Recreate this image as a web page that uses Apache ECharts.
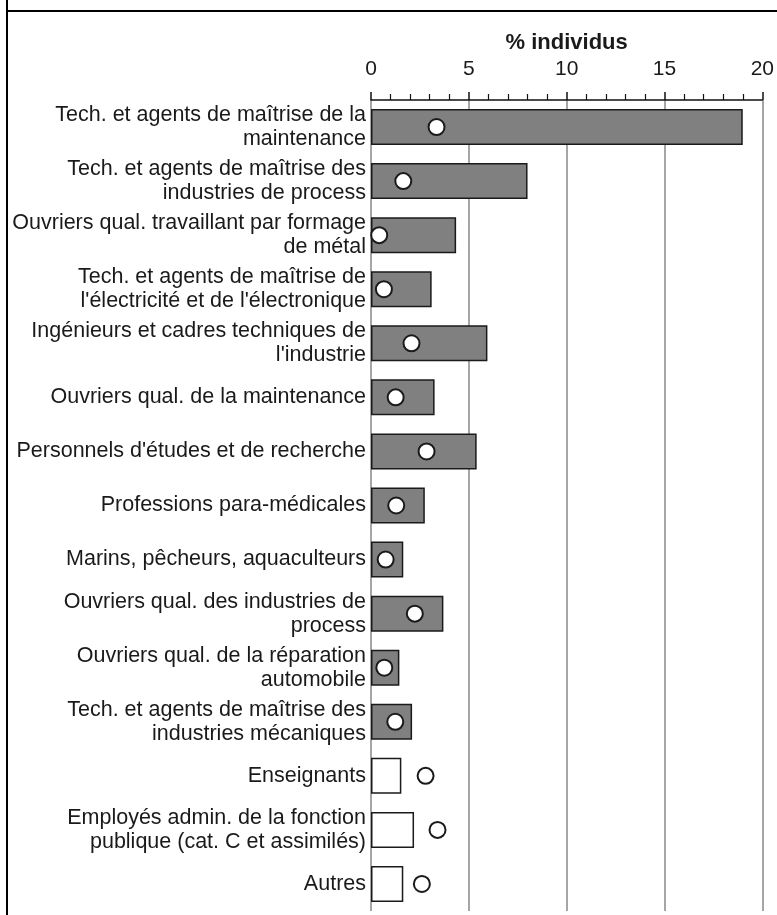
<!DOCTYPE html>
<html>
<head>
<meta charset="utf-8">
<title>% individus</title>
<script src="https://cdn.jsdelivr.net/npm/echarts@6/dist/echarts.min.js"></script>
<style>
  html, body { margin: 0; padding: 0; background: #fff; }
  #chart { width: 777px; height: 915px; }
</style>
</head>
<body>
<div id="chart"></div>
<script>
// catégories (haut -> bas)
const categories = [
  "Tech. et agents de maîtrise de la\nmaintenance",
  "Tech. et agents de maîtrise des\nindustries de process",
  "Ouvriers qual. travaillant par formage\nde métal",
  "Tech. et agents de maîtrise de\nl'électricité et de l'électronique",
  "Ingénieurs et cadres techniques de\nl'industrie",
  "Ouvriers qual. de la maintenance",
  "Personnels d'études et de recherche",
  "Professions para-médicales",
  "Marins, pêcheurs, aquaculteurs",
  "Ouvriers qual. des industries de\nprocess",
  "Ouvriers qual. de la réparation\nautomobile",
  "Tech. et agents de maîtrise des\nindustries mécaniques",
  "Enseignants",
  "Employés admin. de la fonction\npublique (cat. C et assimilés)",
  "Autres"
]

// barres
const barValues = [19.0, 8.0, 4.35, 3.1, 5.95, 3.25, 5.4, 2.75, 1.65, 3.7, 1.45, 2.1, 1.55, 2.2, 1.65]
// ronds
const circleValues = [3.35, 1.65, 0.42, 0.66, 2.07, 1.26, 2.84, 1.29, 0.75, 2.24, 0.68, 1.24, 2.79, 3.4, 2.6]
// barres grisées (true) ou blanches (false)
const shaded = [true, true, true, true, true, true, true, true, true, true, true, true, false, false, false]

const xTicks = [0, 5, 10, 15, 20]

const chart = echarts.init(document.getElementById('chart'))

const textColor = '#1a1a1a'
const font = '"Liberation Sans", Arial, sans-serif'

chart.setOption({
  animation: false,
  backgroundColor: '#fff',
  grid: { left: 371, right: 14, top: 100, bottom: 4 },
  xAxis: {
    type: 'value',
    position: 'top',
    min: xTicks[0],
    max: xTicks[xTicks.length - 1],
    interval: 5,
    name: '% individus',
    nameLocation: 'middle',
    nameGap: 46,
    nameTextStyle: { color: textColor, fontSize: 22, fontWeight: 'bold', fontFamily: font },
    axisLine: { show: true, lineStyle: { color: '#111', width: 1.5 } },
    axisTick: { show: true, length: 8, lineStyle: { color: '#111', width: 1.5 } },
    minorTick: { show: true, splitNumber: 5, length: 6, lineStyle: { color: '#111', width: 1.2 } },
    axisLabel: { color: textColor, fontSize: 21, fontFamily: font, margin: 20 },
    splitLine: { show: true, lineStyle: { color: '#a6a6a6', width: 2 } }
  },
  yAxis: {
    type: 'category',
    data: categories,
    inverse: true,
    axisLine: { show: false },
    axisTick: { show: false },
    axisLabel: {
      color: textColor,
      fontSize: 21.5,
      lineHeight: 24,
      fontFamily: font,
      align: 'right',
      margin: 5
    }
  },
  series: [
    {
      type: 'bar',
      data: barValues,
      barWidth: 36,
      itemStyle: {
        color: (p) => (shaded[p.dataIndex] ? '#808080' : '#ffffff'),
        borderColor: '#1a1a1a',
        borderWidth: 1.5
      },
      z: 2
    },
    {
      type: 'scatter',
      data: circleValues.map((v, i) => [v, categories[i]]),
      symbol: 'circle',
      symbolSize: 16,
      itemStyle: { color: '#fff', borderColor: '#1a1a1a', borderWidth: 2, opacity: 1 },
      z: 3
    }
  ],
  graphic: [
    { type: 'line', shape: { x1: 7, y1: 11, x2: 777, y2: 11 }, style: { stroke: '#000', lineWidth: 2 } },
    { type: 'line', shape: { x1: 7, y1: 0, x2: 7, y2: 915 }, style: { stroke: '#000', lineWidth: 2 } }
  ]
})
</script>
</body>
</html>
